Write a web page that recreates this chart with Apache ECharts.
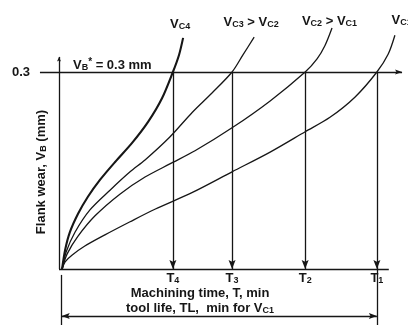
<!DOCTYPE html>
<html>
<head>
<meta charset="utf-8">
<script src="https://cdn.jsdelivr.net/npm/echarts@6/dist/echarts.min.js"></script>
<style>
html,body{margin:0;padding:0;background:#ffffff;}
#chart{width:408px;height:325px;}
</style>
</head>
<body>
<div id="chart"></div>
<script>
// ---------------- data ----------------
const VB_STAR = 0.3;                       // wear criterion, mm
const wearTicks = [0.3];                   // y tick labels
const toolLifeNames = ['T4', 'T3', 'T2', 'T1'];
const toolLifeValues = [33.5, 50.9, 72.4, 93.5];   // machining time at VB = 0.3
const curveNames = ['VC4', 'VC3', 'VC2', 'VC1'];
const curveCompare = ['', 'VC2', 'VC1', ''];
// flank wear (mm) vs machining time for each cutting speed
const wearVc4 = [[0.9,0],[1.8,0.029],[3.2,0.056],[5.6,0.084],[8.5,0.110],[12.1,0.136],[16.5,0.163],[21.5,0.192],[26.2,0.224],[30.3,0.260],[33.5,0.300],[35.3,0.326],[36.5,0.352]];
const wearVc3 = [[0.9,0],[2.1,0.026],[4.7,0.056],[9.1,0.090],[15.0,0.120],[20.9,0.148],[25.3,0.166],[32.6,0.201],[39.1,0.238],[45.0,0.268],[50.9,0.300],[54.1,0.326],[57.4,0.353]];
const wearVc2 = [[0.9,0],[2.4,0.023],[5.6,0.050],[10.6,0.081],[17.9,0.114],[25.3,0.140],[32.6,0.160],[40.0,0.180],[50.9,0.215],[62.1,0.256],[72.4,0.300],[75.9,0.320],[78.2,0.340],[80.3,0.367]];
const wearVc1 = [[0.9,0],[1.8,0.011],[3.8,0.021],[7.6,0.035],[13.5,0.052],[20.9,0.072],[28.2,0.091],[39.4,0.117],[50.9,0.148],[62.1,0.178],[72.4,0.209],[79.7,0.231],[87.1,0.262],[93.5,0.300],[96.8,0.327],[98.8,0.356]];

// drawing extents of the schematic guide lines (data units)
const Y_AXIS_TOP = 0.323;
const X_AXIS_END = 97;
const REF_X = [-5.6, 100.9];
const DIM_LEFT = 0.8;
const DIM_Y = -0.0716;
const EXT_TOP = -0.009;
const EXT_BOTTOM = -0.0853;

// ---------------- styles ----------------
const FONT = '"Liberation Sans", Arial, Helvetica, sans-serif';
const INK = '#161616';
const base = {fontFamily: FONT, fontWeight: 'bold', color: INK};
const RICH = {
  v:  Object.assign({}, base, {fontSize: 13, lineHeight: 15, verticalAlign: 'bottom'}),
  s:  Object.assign({}, base, {fontSize: 9, lineHeight: 7, verticalAlign: 'bottom'}),
  p:  Object.assign({}, base, {fontSize: 10, lineHeight: 7, verticalAlign: 'top'}),
  vl: Object.assign({}, base, {fontSize: 13, lineHeight: 15, verticalAlign: 'bottom', padding: [6,0,0,0]}),
  sl: Object.assign({}, base, {fontSize: 9, lineHeight: 7, verticalAlign: 'bottom', padding: [6,0,0,0]})
};
const LABEL_OFFSETS = [[-3,-6.4],[-3,-8],[-2.5,0.6],[6.7,-7.7]];
const CURVE_WIDTHS = [2.1, 1.3, 1.3, 1.3];
const ARROW = 'path://M5,0L5,0M5,10L10,20L5,18L0,20Z';

function vcText(name) { return '{v|V}{s|' + name.slice(1) + '}'; }

function curveSeries(i, data) {
  const label = vcText(curveNames[i]) + (curveCompare[i] ? '{v| > }' + vcText(curveCompare[i]) : '');
  const pts = data.map(function (p, k) {
    if (k !== data.length - 1) return p;
    return {value: p, label: {show: true, position: 'top', distance: 0, offset: LABEL_OFFSETS[i],
      color: INK, formatter: label, rich: RICH}};
  });
  return {
    type: 'line', name: curveNames[i], data: pts, smooth: 0.3, clip: false,
    symbol: 'circle', symbolSize: 1, showSymbol: true,
    itemStyle: {color: 'rgba(0,0,0,0)'},
    lineStyle: {color: INK, width: CURVE_WIDTHS[i]},
    label: {show: false}, silent: true, z: 3
  };
}

function linesSeries(coordsList, opts) {
  return Object.assign({
    type: 'lines', coordinateSystem: 'cartesian2d', clip: false, silent: true,
    polyline: false, symbol: 'none',
    lineStyle: {color: INK, width: 1.3, opacity: 1, curveness: 0},
    data: coordsList.map(function (c) { return {coords: c}; }), z: 2
  }, opts || {});
}

const chart = echarts.init(document.getElementById('chart'), null, {renderer: 'canvas'});
chart.setOption({
  animation: false,
  backgroundColor: '#ffffff',
  grid: {left: 59, right: 9, top: 72, bottom: 56, containLabel: false, outerBoundsMode: 'none'},
  xAxis: {
    type: 'value', min: 0, max: 100,
    axisLine: {show: false}, axisTick: {show: false}, splitLine: {show: false},
    axisLabel: {
      customValues: toolLifeValues, margin: 1, rich: RICH,
      formatter: function (val) {
        let idx = 0, best = Infinity;
        toolLifeValues.forEach(function (t, k) { if (Math.abs(t - val) < best) { best = Math.abs(t - val); idx = k; } });
        const n = toolLifeNames[idx];
        return n === 'T2' ? '{vl|T}{sl|2}' : '{v|T}{s|' + n.slice(1) + '}';
      }
    },
    name: '{v|Machining time, T, min}\n{v|tool life, TL,  min for V}{s|C1}',
    nameLocation: 'middle', nameGap: 16, nameMoveOverlap: false,
    nameTextStyle: {rich: RICH, padding: [0, 58, 0, 0]}
  },
  yAxis: {
    type: 'value', min: 0, max: VB_STAR,
    axisLine: {show: false}, axisTick: {show: false}, splitLine: {show: false},
    axisLabel: {customValues: wearTicks, margin: 29, fontFamily: FONT, fontWeight: 'bold',
      fontSize: 13, color: INK, formatter: function (v) { return v.toFixed(1); }},
    name: '{v|Flank wear, V}{s|B}{v| (mm)}',
    nameLocation: 'middle', nameGap: 11, nameMoveOverlap: false,
    nameTextStyle: {rich: RICH, padding: [0, 3, 0, 0]}
  },
  series: [
    curveSeries(0, wearVc4),
    curveSeries(1, wearVc3),
    curveSeries(2, wearVc2),
    curveSeries(3, wearVc1),
    // wear criterion line
    linesSeries([[[REF_X[0], VB_STAR], [REF_X[1], VB_STAR]]], {
      symbol: ['none', ARROW], symbolSize: [0, [5, 14]],
      label: {show: true, position: 'insideStartTop', distance: [33, 0],
        formatter: '{v|V}{s|B}{p|*}{v| = 0.3 mm}', rich: RICH}
    }),
    // axes
    linesSeries([[[0, 0], [X_AXIS_END, 0]]]),
    linesSeries([[[0, 0], [0, Y_AXIS_TOP]]], {symbol: ['none', ARROW], symbolSize: [0, [4, 9]]}),
    // drop lines to tool life
    linesSeries(toolLifeValues.map(function (t) { return [[t, VB_STAR], [t, 0]]; }), {
      symbol: ['none', ARROW], symbolSize: [0, [7, 18]]
    }),
    // extension lines of tool-life dimension
    linesSeries([[[DIM_LEFT, EXT_TOP], [DIM_LEFT, EXT_BOTTOM]],
                 [[toolLifeValues[3], 0], [toolLifeValues[3], EXT_BOTTOM]]]),
    // tool life dimension arrow
    linesSeries([[[DIM_LEFT, DIM_Y], [toolLifeValues[3], DIM_Y]]], {
      symbol: [ARROW, ARROW], symbolSize: [[6, 16], [6, 16]]
    })
  ]
});
</script>
</body>
</html>
